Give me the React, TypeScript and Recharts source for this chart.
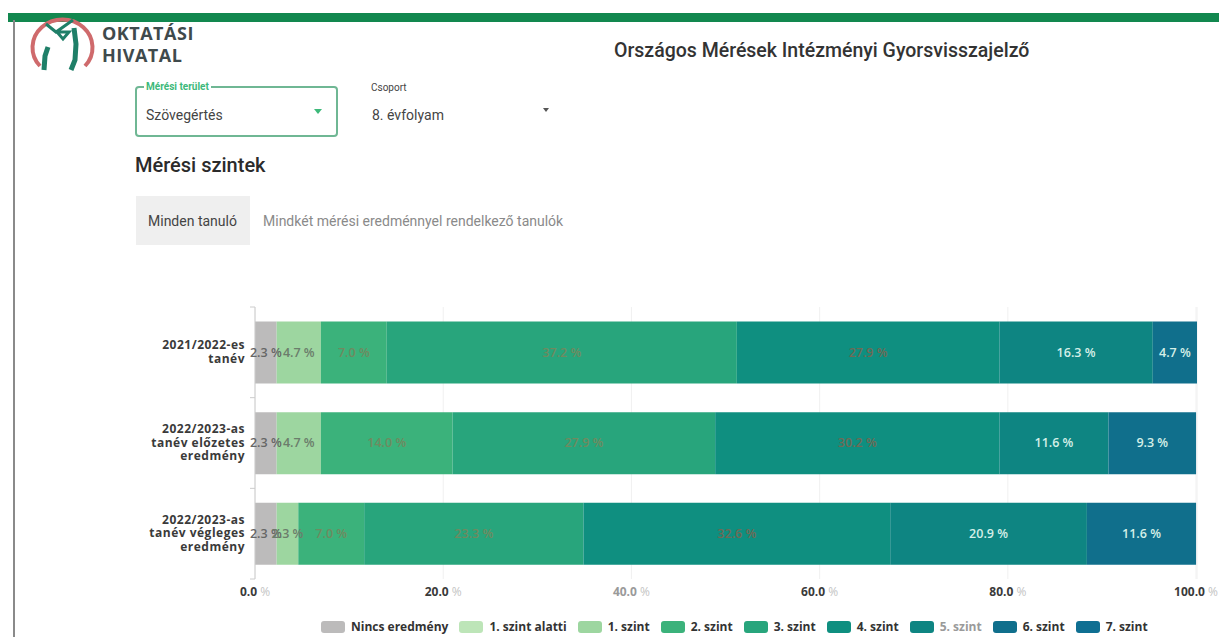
import { BarChart, Bar, XAxis, YAxis, CartesianGrid, Legend, LabelList } from 'recharts';

const years = [
  '2021/2022-es\ntanév',
  '2022/2023-as\ntanév előzetes\neredmény',
  '2022/2023-as\ntanév végleges\neredmény',
];
const xTicks = [0, 20, 40, 60, 80, 100];

const nincs = [2.3, 2.3, 2.3];
const alatti = [null, null, null];
const szint1 = [4.7, 4.7, 2.3];
const szint2 = [7.0, 14.0, 7.0];
const szint3 = [37.2, 27.9, 23.3];
const szint4 = [27.9, 30.2, 32.6];
const szint5 = [16.3, 11.6, 20.9];
const szint6 = [4.7, 9.3, 11.6];
const szint7 = [null, null, null];

const series = [
  { name: 'Nincs eredmény', values: nincs, color: '#bcbbbb', label: '#666666', text: '#333333' },
  { name: '1. szint alatti', values: alatti, color: '#bde5b8', label: '#666666', text: '#333333' },
  { name: '1. szint', values: szint1, color: '#9dd6a0', label: '#6b7d6b', text: '#333333' },
  { name: '2. szint', values: szint2, color: '#3bb27b', label: '#6f8a60', text: '#333333' },
  { name: '3. szint', values: szint3, color: '#28a57c', label: '#6f8a60', text: '#333333' },
  { name: '4. szint', values: szint4, color: '#0f8f80', label: '#6f6a55', text: '#333333' },
  { name: '5. szint', values: szint5, color: '#0e8582', label: '#d5efe8', text: '#9a9a9a' },
  { name: '6. szint', values: szint6, color: '#106f8c', label: '#d5efe8', text: '#333333' },
  { name: '7. szint', values: szint7, color: '#0f6f92', label: '#d5efe8', text: '#333333' },
];

const rows = years.map((year, i) => {
  const row: Record<string, any> = { year };
  series.forEach((s) => {
    row[s.name] = s.values[i];
  });
  return row;
});

const FONT = '"Open Sans", sans-serif';
const UI_FONT = 'Roboto, sans-serif';

const YearTick = ({ x, y, payload, index, height }: any) => {
  const lines = String(payload.value).split('\n');
  const top = y - ((lines.length - 1) * 13.5) / 2 + 3.5;
  const band = height / years.length;
  const axisX = x + 8;
  return (
    <g>
      {index === 0 && <line x1={axisX - 5} x2={axisX} y1={y - band / 2} y2={y - band / 2} stroke="#cccccc" />}
      <line x1={axisX - 5} x2={axisX} y1={y + band / 2} y2={y + band / 2} stroke="#cccccc" />
      <text x={x - 2} y={top} textAnchor="end" fontFamily={FONT} fontSize={12} letterSpacing={0.5} fontWeight={700} fill="#3a3a3a">
        {lines.map((line, i) => (
          <tspan key={i} x={x - 2} dy={i === 0 ? 0 : 13.5}>
            {line}
          </tspan>
        ))}
      </text>
    </g>
  );
};

const PercentTick = ({ x, y, payload }: any) => (
  <text x={x} y={y} dy={9} textAnchor="middle" fontFamily={FONT} fontSize={12} fontWeight={700}>
    <tspan fill={payload.value === 40 ? '#9a9a9a' : '#3a3a3a'}>{payload.value.toFixed(1)}</tspan>
    <tspan fill="#c4c4c4" fontWeight={400}> %</tspan>
  </text>
);

// the default label wraps on narrow segments, the original keeps them on one line
const SegmentLabel = ({ x, y, width, height, value, textColor }: any) =>
  value == null ? null : (
    <text
      x={x + width / 2}
      y={y + height / 2}
      dy={4}
      textAnchor="middle"
      fontFamily={FONT}
      fontSize={12.5}
      fontWeight={600}
      fill={textColor}
    >
      {`${value.toFixed(1)} %`}
    </text>
  );

const LegendRow = () => (
  <div style={{ display: 'flex', alignItems: 'center', gap: 11, paddingLeft: 321, paddingTop: 9 }}>
    {series.map((s) => (
      <div key={s.name} style={{ display: 'flex', alignItems: 'center', gap: 6 }}>
        <span style={{ width: 24, height: 12, borderRadius: 3, background: s.color, display: 'block' }} />
        <span style={{ fontFamily: FONT, fontSize: 12, fontWeight: 700, color: s.text, whiteSpace: 'nowrap' }}>{s.name}</span>
      </div>
    ))}
  </div>
);

const Logo = () => (
  <svg width={90} height={70} style={{ position: 'absolute', left: 25, top: 10 }}>
    <path d="M 15 56 A 30 28 0 1 1 60 56" fill="none" stroke="#cf6a6c" strokeWidth={4} />
    <path d="M 19 60 L 20 46 L 23 37" fill="none" stroke="#1f7f68" strokeWidth={5} />
    <path d="M 49 18 L 51 34 L 50 50 L 46 60" fill="none" stroke="#1f7f68" strokeWidth={5} />
    <path d="M 21 14 L 31 22 L 48 10 M 32 22 L 44 22 L 38 29 Z" fill="none" stroke="#1f7f68" strokeWidth={3} />
  </svg>
);

const abs = (left: number, top: number, style: any = {}) => ({
  position: 'absolute' as const,
  left,
  top,
  fontFamily: UI_FONT,
  whiteSpace: 'nowrap' as const,
  ...style,
});

export default function App() {
  return (
    <div style={{ position: 'absolute', left: 0, top: 0, width: 1219, height: 637, background: '#fff', overflow: 'hidden' }}>
      <div style={{ position: 'absolute', left: 8, top: 13, width: 1211, height: 9, background: '#12884f' }} />
      <div style={{ position: 'absolute', left: 13, top: 20, width: 2, height: 617, background: '#8a8a8a' }} />
      <Logo />
      <div style={abs(102, 22, { fontFamily: FONT, fontSize: 18, lineHeight: '22px', fontWeight: 700, color: '#3f4a4c', letterSpacing: 0.5 })}>
        OKTATÁSI
        <br />
        HIVATAL
      </div>
      <div style={abs(614, 39, { fontSize: 19.5, fontWeight: 500, color: '#333' })}>Országos Mérések Intézményi Gyorsvisszajelző</div>

      <div style={abs(135, 86, { width: 203, height: 51, boxSizing: 'border-box', border: '2px solid #6fb794', borderRadius: 4 })} />
      <div style={abs(144, 81, { background: '#fff', padding: '0 2px', fontSize: 10, fontWeight: 700, color: '#3db97a' })}>Mérési terület</div>
      <div style={abs(146, 107, { fontSize: 14, color: '#444' })}>Szövegértés</div>
      <div style={abs(314, 109, { width: 0, height: 0, borderLeft: '4px solid transparent', borderRight: '4px solid transparent', borderTop: '5px solid #3db97a' })} />
      <div style={abs(371, 82, { fontSize: 10, color: '#444' })}>Csoport</div>
      <div style={abs(372, 107, { fontSize: 14, color: '#444' })}>8. évfolyam</div>
      <div style={abs(543, 108, { width: 0, height: 0, borderLeft: '3px solid transparent', borderRight: '3px solid transparent', borderTop: '4px solid #555' })} />

      <div style={abs(135, 153, { fontSize: 20, fontWeight: 500, color: '#2b2b2b' })}>Mérési szintek</div>
      <div style={abs(136, 196, { width: 114, height: 49, background: '#efefef' })} />
      <div style={abs(148, 213, { fontSize: 14, color: '#444' })}>Minden tanuló</div>
      <div style={abs(263, 213, { fontSize: 14, color: '#8a8a8a' })}>Mindkét mérési eredménnyel rendelkező tanulók</div>

      <div style={{ position: 'absolute', left: 0, top: 290 }}>
        <BarChart
          width={1219}
          height={347}
          layout="vertical"
          data={rows}
          barCategoryGap="16%"
          margin={{ top: 17, right: 22, left: 0, bottom: 0 }}
        >
          <CartesianGrid horizontal={false} stroke="#f0f0f0" />
          <XAxis
            type="number"
            domain={[0, 100]}
            ticks={xTicks}
            axisLine={false}
            tickLine={false}
            tick={<PercentTick />}
            height={30}
          />
          <YAxis
            type="category"
            dataKey="year"
            width={255}
            axisLine={{ stroke: '#cccccc' }}
            tickLine={{ stroke: 'transparent' }}
            tick={<YearTick />}
          />
          <Legend verticalAlign="bottom" height={28} content={<LegendRow />} />
          {series.map((s) => (
            <Bar key={s.name} dataKey={s.name} stackId="a" fill={s.color} isAnimationActive={false}>
              <LabelList dataKey={s.name} content={(p: any) => <SegmentLabel {...p} textColor={s.label} />} />
            </Bar>
          ))}
        </BarChart>
      </div>
    </div>
  );
}
